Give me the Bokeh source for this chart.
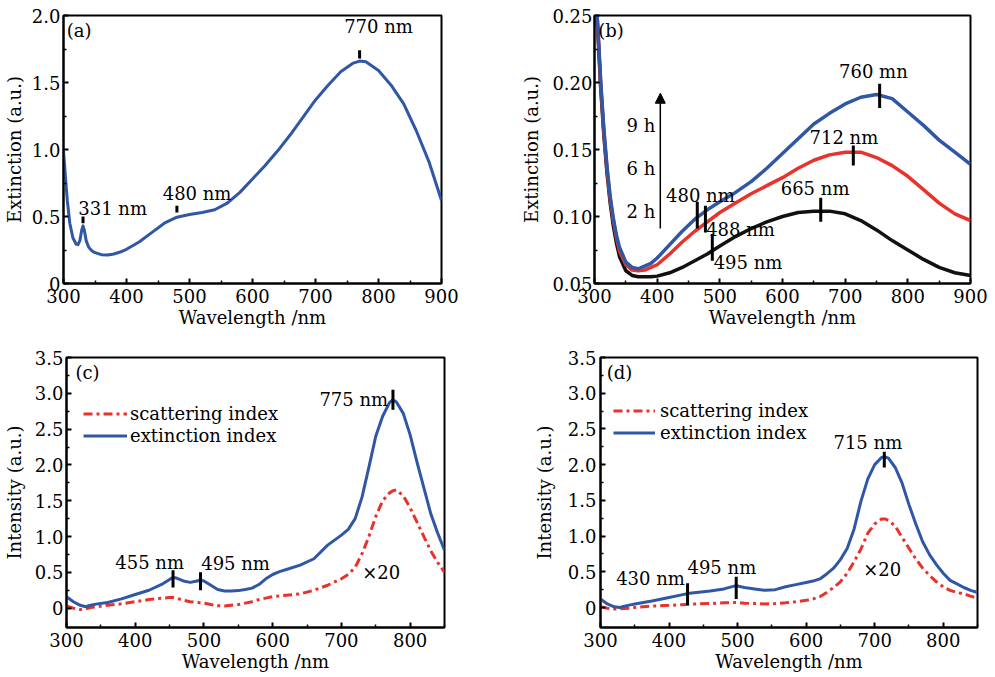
from bokeh.plotting import figure
from bokeh.layouts import column, row
from bokeh.models import (FixedTicker, Legend, LegendItem, Arrow, NormalHead,
                          Range1d, PrintfTickFormatter)
from bokeh.core.properties import value
from bokeh.embed import file_html
from bokeh.resources import INLINE

FONT = "DejaVu Serif"
FS = "18px"
BLUE = "#2f57a5"
RED = "#e8322b"
BLACK = "#111111"
DASHDOT = "9 4 3 4"

# ---------------- panel (a) ----------------
a_wl = [300, 303, 306, 310, 315, 320, 323, 326, 329, 331, 333, 336, 340, 345, 350,
        360, 370, 380, 390, 400, 420, 440, 460, 480, 500, 520, 540, 560, 580, 600,
        620, 640, 660, 680, 700, 720, 740, 760, 770, 780, 800, 820, 840, 860, 880, 900]
a_ext = [0.99, 0.80, 0.62, 0.45, 0.34, 0.295, 0.29, 0.32, 0.40, 0.43, 0.40, 0.32, 0.27,
         0.245, 0.23, 0.215, 0.212, 0.22, 0.235, 0.255, 0.31, 0.38, 0.45, 0.495, 0.515,
         0.53, 0.55, 0.60, 0.68, 0.78, 0.88, 0.99, 1.11, 1.24, 1.37, 1.48, 1.58, 1.645,
         1.66, 1.655, 1.59, 1.48, 1.34, 1.14, 0.91, 0.62]
a_mark_x = [331, 480, 770]
a_mark_y0 = [0.45, 0.53, 1.68]
a_mark_y1 = [0.50, 0.58, 1.74]
a_lab_x = [378, 512, 800]
a_lab_y = [0.56, 0.67, 1.92]
a_lab = ["331 nm", "480 nm", "770 nm"]

# ---------------- panel (b) ----------------
b_wl = [300, 305, 310, 315, 320, 325, 330, 335, 340, 350, 360, 370, 380, 390, 400, 420,
        440, 460, 480, 500, 525, 550, 575, 600, 625, 650, 675, 700, 725, 750, 775, 800,
        825, 850, 875, 900]
b_9h = [0.27, 0.245, 0.20, 0.165, 0.137, 0.115, 0.099, 0.086, 0.077, 0.066, 0.062, 0.061,
        0.063, 0.065, 0.069, 0.079, 0.089, 0.098, 0.105, 0.111, 0.118, 0.126, 0.136, 0.147,
        0.158, 0.169, 0.177, 0.184, 0.189, 0.191, 0.188, 0.178, 0.168, 0.157, 0.148, 0.139]
b_6h = [0.27, 0.243, 0.198, 0.163, 0.135, 0.113, 0.097, 0.084, 0.074, 0.064, 0.060, 0.0595,
        0.060, 0.062, 0.064, 0.072, 0.081, 0.089, 0.096, 0.103, 0.110, 0.117, 0.123, 0.129,
        0.136, 0.142, 0.146, 0.148, 0.148, 0.144, 0.138, 0.130, 0.120, 0.110, 0.102, 0.097]
b_2h = [0.27, 0.24, 0.195, 0.160, 0.132, 0.110, 0.093, 0.080, 0.070, 0.0595, 0.056, 0.055,
        0.055, 0.055, 0.0555, 0.058, 0.062, 0.067, 0.072, 0.078, 0.085, 0.091, 0.096, 0.100,
        0.103, 0.104, 0.104, 0.102, 0.097, 0.090, 0.082, 0.075, 0.068, 0.062, 0.058, 0.056]
b_mark_x = [464, 477, 488, 661, 713, 755]
b_mark_y0 = [0.091, 0.088, 0.067, 0.096, 0.138, 0.181]
b_mark_y1 = [0.111, 0.108, 0.087, 0.114, 0.153, 0.199]
b_lab_x = [469, 533, 545, 652, 698, 745, 374, 374, 374]
b_lab_y = [0.116, 0.090, 0.066, 0.121, 0.159, 0.208, 0.168, 0.136, 0.104]
b_lab = ["480 nm", "488 nm", "495 nm", "665 nm", "712 nm", "760 mn", "9 h", "6 h", "2 h"]

# ---------------- panel (c) ----------------
c_wl = [300, 310, 320, 328, 335, 345, 360, 380, 400, 420, 440, 450, 455, 460, 470, 480,
        490, 495, 500, 510, 520, 530, 540, 550, 560, 570, 580, 590, 600, 610, 620, 640,
        660, 680, 700, 710, 720, 730, 740, 750, 760, 770, 775, 780, 790, 800, 810, 820,
        830, 840, 850]
c_ext = [0.16, 0.09, 0.04, 0.02, 0.04, 0.06, 0.08, 0.13, 0.19, 0.25, 0.34, 0.40, 0.43,
         0.42, 0.38, 0.36, 0.38, 0.39, 0.38, 0.32, 0.26, 0.24, 0.24, 0.245, 0.26, 0.28,
         0.33, 0.41, 0.47, 0.51, 0.54, 0.60, 0.69, 0.88, 1.02, 1.10, 1.25, 1.55, 1.97,
         2.40, 2.68, 2.87, 2.91, 2.88, 2.72, 2.42, 2.04, 1.68, 1.32, 1.05, 0.81]
c_sca = [0.03, 0.0, -0.02, -0.01, 0.01, 0.02, 0.04, 0.06, 0.09, 0.12, 0.14, 0.15, 0.15,
         0.14, 0.11, 0.09, 0.08, 0.075, 0.07, 0.05, 0.035, 0.03, 0.04, 0.05, 0.07, 0.09,
         0.12, 0.14, 0.16, 0.17, 0.18, 0.20, 0.25, 0.32, 0.41, 0.47, 0.57, 0.76, 1.00,
         1.28, 1.50, 1.61, 1.64, 1.65, 1.57, 1.40, 1.20, 1.00, 0.80, 0.64, 0.50]
c_mark_x = [455, 495, 775]
c_mark_y0 = [0.29, 0.25, 2.77]
c_mark_y1 = [0.53, 0.50, 3.05]
c_lab_x = [421, 546, 718, 758]
c_lab_y = [0.64, 0.62, 2.92, 0.50]
c_lab = ["455 nm", "495 nm", "775 nm", "×20"]

# ---------------- panel (d) ----------------
d_wl = [300, 310, 320, 328, 340, 350, 375, 400, 420, 430, 440, 460, 480, 495, 500, 510,
        525, 540, 555, 570, 585, 600, 610, 620, 630, 640, 650, 660, 670, 680, 690, 700,
        710, 715, 720, 730, 740, 750, 760, 770, 780, 790, 800, 810, 820, 830, 840, 850]
d_ext = [0.12, 0.05, 0.01, 0.0, 0.03, 0.05, 0.09, 0.14, 0.18, 0.20, 0.21, 0.23, 0.26,
         0.30, 0.30, 0.28, 0.26, 0.24, 0.25, 0.29, 0.32, 0.35, 0.37, 0.40, 0.47, 0.55,
         0.67, 0.83, 1.10, 1.49, 1.80, 2.00, 2.10, 2.11, 2.09, 1.96, 1.74, 1.44, 1.17,
         0.92, 0.74, 0.60, 0.48, 0.38, 0.33, 0.28, 0.24, 0.21]
d_sca = [0.01, -0.01, -0.02, -0.02, -0.01, 0.0, 0.02, 0.03, 0.04, 0.045, 0.05, 0.055,
         0.065, 0.07, 0.07, 0.06, 0.055, 0.05, 0.055, 0.065, 0.08, 0.10, 0.12, 0.15, 0.21,
         0.28, 0.36, 0.48, 0.64, 0.82, 1.04, 1.17, 1.24, 1.24, 1.22, 1.14, 0.98, 0.83,
         0.68, 0.55, 0.45, 0.36, 0.29, 0.24, 0.21, 0.19, 0.16, 0.13]
d_mark_x = [427, 498, 714]
d_mark_y0 = [0.03, 0.12, 1.96]
d_mark_y1 = [0.34, 0.43, 2.18]
d_lab_x = [373, 477, 690, 711]
d_lab_y = [0.40, 0.56, 2.31, 0.53]
d_lab = ["430 nm", "495 nm", "715 nm", "×20"]

x_ticks_a = [300, 400, 500, 600, 700, 800, 900]
x_minor_a = [350, 450, 550, 650, 750, 850]
y_ticks_a = [0, 0.5, 1.0, 1.5, 2.0]
y_minor_a = [0.25, 0.75, 1.25, 1.75]
y_ticks_b = [0.05, 0.10, 0.15, 0.20, 0.25]
y_minor_b = [0.075, 0.125, 0.175, 0.225]
x_ticks_c = [300, 400, 500, 600, 700, 800]
x_minor_c = [350, 450, 550, 650, 750, 850]
y_ticks_c = [0, 0.5, 1.0, 1.5, 2.0, 2.5, 3.0, 3.5]
y_minor_c = [0.25, 0.75, 1.25, 1.75, 2.25, 2.75, 3.25]


def make(xr, yr, fw, fh, bl, br, bt, bb, xt, xm, yt, ym, yfmt, ylabel, zero_override,
         y_std=3, y_lab_std=4):
    p = figure(x_range=Range1d(*xr), y_range=Range1d(*yr), frame_width=fw, frame_height=fh,
               min_border_left=bl, min_border_right=br, min_border_top=bt,
               min_border_bottom=bb, output_backend="svg", toolbar_location=None)
    p.xaxis.ticker = FixedTicker(ticks=xt, minor_ticks=xm)
    p.yaxis.ticker = FixedTicker(ticks=yt, minor_ticks=ym)
    p.xaxis.formatter = PrintfTickFormatter(format="%d")
    p.yaxis.formatter = PrintfTickFormatter(format=yfmt)
    if zero_override:
        p.yaxis.major_label_overrides = {0: "0"}
    p.xaxis.axis_label = "Wavelength /nm"
    p.yaxis.axis_label = ylabel
    for ax in (p.xaxis[0], p.yaxis[0]):
        ax.axis_line_color = "black"
        ax.axis_line_width = 2
        ax.major_tick_in = 5
        ax.major_tick_out = 0
        ax.minor_tick_in = 3
        ax.minor_tick_out = 0
        ax.major_tick_line_color = "black"
        ax.minor_tick_line_color = "black"
        ax.major_tick_line_width = 2
        ax.minor_tick_line_width = 1.5
        ax.major_label_text_font = FONT
        ax.major_label_text_font_size = FS
        ax.major_label_text_color = "black"
        ax.axis_label_text_font = FONT
        ax.axis_label_text_font_size = FS
        ax.axis_label_text_font_style = "normal"
        ax.axis_label_text_color = "black"
    p.xaxis.major_label_standoff = 5
    p.xaxis.axis_label_standoff = 1
    p.yaxis.major_label_standoff = y_std
    p.yaxis.axis_label_standoff = y_lab_std
    p.xgrid.visible = False
    p.ygrid.visible = False
    p.outline_line_color = "black"
    p.outline_line_width = 2
    p.outline_line_alpha = 1.0
    return p


def texts(p, xs, ys, labels, align="center"):
    p.text(x=xs, y=ys, text=labels, text_font=value(FONT), text_font_size=FS,
           text_align=align, text_baseline="middle", text_color="black")


def legend(p, r_s, r_e, x, y, gw, std):
    leg = Legend(items=[LegendItem(label="scattering index", renderers=[r_s]),
                        LegendItem(label="extinction index", renderers=[r_e])],
                 location=(x, y), padding=0, margin=0, spacing=1, glyph_width=gw,
                 glyph_height=21, label_height=21, label_standoff=std,
                 label_text_font=FONT, label_text_font_size=FS,
                 label_text_color="black", border_line_alpha=0,
                 background_fill_alpha=0)
    p.add_layout(leg)


# (a)
pa = make((300, 900), (0, 2.0), 378, 268, 63, 57, 15, 53, x_ticks_a, x_minor_a,
          y_ticks_a, y_minor_a, "%.1f", "Extinction (a.u.)", True, 3, 4)
pa.line(a_wl, a_ext, line_color=BLUE, line_width=3, line_join="round")
pa.segment(x0=a_mark_x, y0=a_mark_y0, x1=a_mark_x, y1=a_mark_y1, line_color="black",
           line_width=3)
texts(pa, a_lab_x, a_lab_y, a_lab)
texts(pa, [305], [1.89], ["(a)"], align="left")

# (b)
pb = make((300, 900), (0.05, 0.25), 376, 268, 96, 25, 15, 53, x_ticks_a, x_minor_a,
          y_ticks_b, y_minor_b, "%.2f", "Extinction (a.u.)", False, 2, 7)
pb.line(b_wl, b_2h, line_color=BLACK, line_width=3.5, line_join="round")
pb.line(b_wl, b_6h, line_color=RED, line_width=3.5, line_join="round")
pb.line(b_wl, b_9h, line_color=BLUE, line_width=3.5, line_join="round")
pb.segment(x0=b_mark_x, y0=b_mark_y0, x1=b_mark_x, y1=b_mark_y1, line_color="black",
           line_width=3)
texts(pb, b_lab_x, b_lab_y, b_lab)
texts(pb, [306], [0.239], ["(b)"], align="left")
pb.add_layout(Arrow(end=NormalHead(size=10, fill_color="black", line_color="black"),
                    x_start=405, y_start=0.091, x_end=405, y_end=0.192,
                    line_color="black", line_width=1.5))

# (c)
pc = make((300, 850), (-0.27, 3.5), 378, 270, 63, 57, 21, 50, x_ticks_c, x_minor_c,
          y_ticks_c, y_minor_c, "%.1f", "Intensity (a.u.)", True, 3, 7)
rc_s = pc.line(c_wl, c_sca, line_color=RED, line_width=3, line_dash=DASHDOT)
rc_e = pc.line(c_wl, c_ext, line_color=BLUE, line_width=3, line_join="round")
pc.segment(x0=c_mark_x, y0=c_mark_y0, x1=c_mark_x, y1=c_mark_y1, line_color="black",
           line_width=3)
texts(pc, c_lab_x, c_lab_y, c_lab)
texts(pc, [313], [3.29], ["(c)"], align="left")
legend(pc, rc_s, rc_e, 17, 181, 44, 3)

# (d)
pd_ = make((300, 850), (-0.28, 3.5), 377, 270, 99, 21, 21, 50, x_ticks_c, x_minor_c,
           y_ticks_c, y_minor_c, "%.1f", "Intensity (a.u.)", True, 4, 10)
rd_s = pd_.line(d_wl, d_sca, line_color=RED, line_width=3, line_dash=DASHDOT)
rd_e = pd_.line(d_wl, d_ext, line_color=BLUE, line_width=3, line_join="round")
pd_.segment(x0=d_mark_x, y0=d_mark_y0, x1=d_mark_x, y1=d_mark_y1, line_color="black",
            line_width=3)
texts(pd_, d_lab_x, d_lab_y, d_lab)
texts(pd_, [309], [3.29], ["(d)"], align="left")
legend(pd_, rd_s, rd_e, 13, 184, 42, 5)

layout = column(row(pa, pb, spacing=0), row(pc, pd_, spacing=0), spacing=0)
open("out.html", "w").write(file_html(layout, INLINE))
